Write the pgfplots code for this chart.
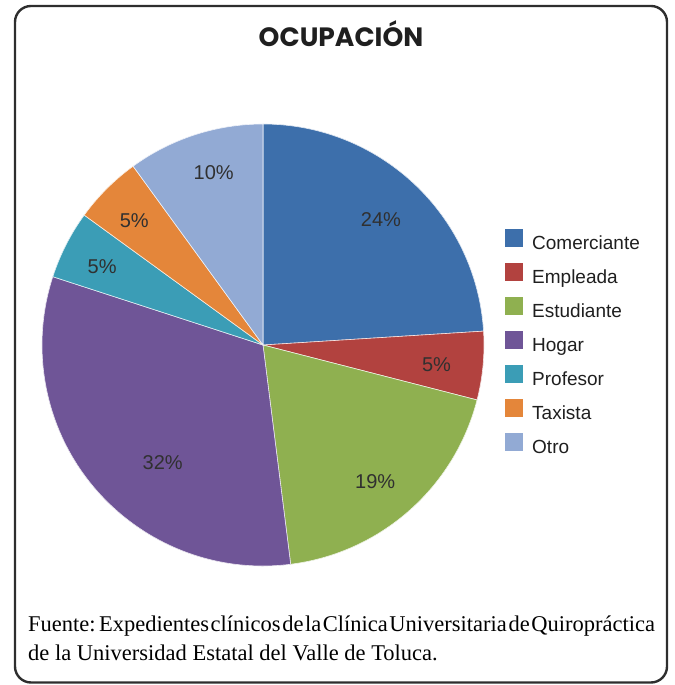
\documentclass[border=0pt]{standalone}
\usepackage{fontspec}
\setmainfont{Liberation Sans}
\newfontfamily\serif{Liberation Serif}
\newfontfamily\poppins{Poppins}
\usepackage{pgfplots}
\usepackage{pgfplotstable}
\pgfplotsset{compat=1.18}

\definecolor{c0}{HTML}{3D6FAB}
\definecolor{c1}{HTML}{B2423F}
\definecolor{c2}{HTML}{8FB050}
\definecolor{c3}{HTML}{6F5597}
\definecolor{c4}{HTML}{3B9DB6}
\definecolor{c5}{HTML}{E4863A}
\definecolor{c6}{HTML}{92AAD4}
\definecolor{lab}{HTML}{303030}

% ocupacion, porcentaje, radio de la etiqueta, giro de la etiqueta
\pgfplotstableread{
name        v   lr    la
Comerciante 24  0.78  0
Empleada    5   0.79  -1
Estudiante  19  0.80  -2
Hogar       32  0.70  10
Profesor    5   0.81  1
Taxista     5   0.81  1
Otro        10  0.81  -2
}\ocup

\newcommand\R{221}

\begin{document}
\begin{tikzpicture}
\useasboundingbox (0,0) rectangle (675bp,685bp);

% angulos acumulados, en sentido horario desde arriba
\gdef\acc{90}
\pgfplotsforeachungrouped \i in {0,...,6}{%
  \pgfplotstablegetelem{\i}{v}\of\ocup \let\val\pgfplotsretval
  \pgfmathsetmacro\en{\acc-3.6*\val}
  \pgfplotstablegetelem{\i}{lr}\of\ocup \let\lr\pgfplotsretval
  \pgfplotstablegetelem{\i}{la}\of\ocup \let\la\pgfplotsretval
  \pgfmathsetmacro\mid{(\acc+\en)/2+\la}
  \expandafter\xdef\csname s\i\endcsname{\acc}
  \expandafter\xdef\csname e\i\endcsname{\en}
  \expandafter\xdef\csname p\i\endcsname{\val}
  \expandafter\xdef\csname m\i\endcsname{\mid}
  \expandafter\xdef\csname r\i\endcsname{\lr}
  \xdef\acc{\en}
}

\begin{axis}[
    at={(0,0)}, anchor=south west,
    x=1bp, y=1bp,
    xmin=-263, xmax=412,
    ymin=-340, ymax=345,
    hide axis, clip=false,
    legend image code/.code={\fill[#1] (0bp,-2bp) rectangle (18bp,16bp);},
    legend style={
        at={(0.7437,0.6696)}, anchor=north west,
        draw=none, fill=none,
        font=\fontsize{19bp}{22bp}\selectfont\color{black!88},
        row sep=9bp, column sep=9bp,
        nodes={inner sep=0pt, text height=14bp, text depth=4bp},
    },
    legend cell align=left,
]
\pgfplotsinvokeforeach{0,...,6}{
  \fill[c#1, draw=white!85!c#1, line width=0.6bp] (axis cs:0,0)
    -- (axis cs:{\R*cos(\csname s#1\endcsname)},{\R*sin(\csname s#1\endcsname)})
    arc[start angle=\csname s#1\endcsname, end angle=\csname e#1\endcsname, radius=\R bp]
    -- cycle;
  \addlegendimage{fill=c#1, draw=none}
}
\pgfplotsinvokeforeach{0,...,6}{
  \node[font=\fontsize{20bp}{24bp}\selectfont, text=lab]
    at (axis cs:{\csname r#1\endcsname*\R*cos(\csname m#1\endcsname)},{\csname r#1\endcsname*\R*sin(\csname m#1\endcsname)})
    {\csname p#1\endcsname\%};
}
\legend{Comerciante, Empleada, Estudiante, Hogar, Profesor, Taxista, Otro}
\end{axis}

\draw[line width=2.4bp, black!82, rounded corners=16bp] (15bp,2.5bp) rectangle (667bp,679bp);
\node[font=\poppins\bfseries\fontsize{26.5bp}{30bp}\selectfont, text=black!88, anchor=base, inner sep=0pt] at (341bp,47bp+591bp) {OCUPACIÓN};
\node[font=\serif\fontsize{22.5bp}{26bp}\selectfont, anchor=base west, inner sep=0pt] at (28bp,53bp)
  {\spaceskip=0.07em plus 0.03em\relax Fuente: Expedientes clínicos de la Clínica Universitaria de Quiropráctica};
\node[font=\serif\fontsize{22.5bp}{26bp}\selectfont, anchor=base west, inner sep=0pt] at (28bp,25bp)
  {de la Universidad Estatal del Valle de Toluca.};
\end{tikzpicture}
\end{document}
